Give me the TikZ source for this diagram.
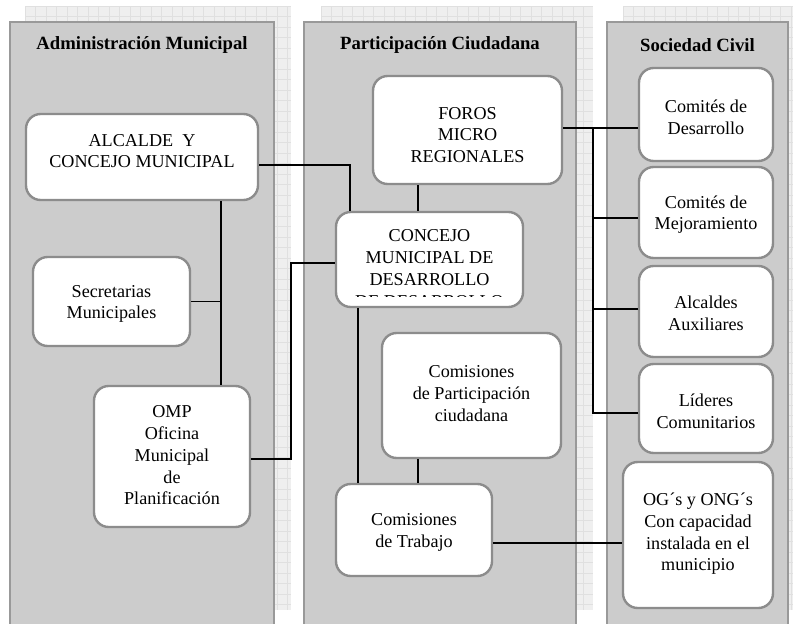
\documentclass[tikz,border=0pt]{standalone}
\usepackage{fontspec}
\setmainfont{Liberation Serif}
\usetikzlibrary{calc}
\definecolor{panelfill}{HTML}{CCCCCC}
\definecolor{panelline}{HTML}{999999}
\definecolor{boxline}{HTML}{8C8C8C}
\definecolor{gridfill}{HTML}{EFEFEF}
\definecolor{gridline}{HTML}{E0E0E0}
\tikzset{
  shadowgrid/.style={fill=gridfill},
  panel/.style={fill=panelfill, draw=panelline, line width=2.2pt},
  box/.style={draw=boxline, fill=white, line width=1.8pt, rounded corners=11pt, inner sep=0pt},
  txt/.style={align=center, inner sep=0pt, font=\fontsize{13.6}{16.3}\selectfont},
  head/.style={inner sep=0pt, font=\fontsize{14}{16.3}\selectfont\bfseries},
  conn/.style={draw=black, line width=1.4pt}
}
\begin{document}
\begin{tikzpicture}[x=0.75pt,y=-0.75pt]
\useasboundingbox (0,0) rectangle (793,624);
\clip (0,0) rectangle (793,624);
% grid shadows
\foreach \xa/\xb in {25/291,321/593,623/810}{
  \fill[shadowgrid] (\xa,6) rectangle (\xb,610);
  \begin{scope}
    \clip (\xa,6) rectangle (\xb,610);
    \foreach \gx in {0,...,27}{\draw[gridline, line width=0.6pt] ({\xa+\gx*10.5},6) -- ({\xa+\gx*10.5},610);}
    \foreach \gy in {0,...,58}{\draw[gridline, line width=0.6pt] (\xa,{6+\gy*10.5}) -- (\xb,{6+\gy*10.5});}
  \end{scope}
}
% panels
\draw[panel] (10,22) rectangle (274,640);
\draw[panel] (304,22) rectangle (576,640);
\draw[panel] (607,22) rectangle (788,640);
\node[head] (h1) at (142,45) {Administración Municipal};
\node[head] (h2) at (440,45) {Participación Ciudadana};
\node[head] (h3) at (697.5,45) {Sociedad Civil};

% boxes
\node[box, minimum width=174pt, minimum height=64.5pt] (alcalde) at (142,157) {};
\node[txt] (alcalde-t) at (142,151) {ALCALDE~ Y\\CONCEJO MUNICIPAL};
\node[box, minimum width=117.75pt, minimum height=66.75pt] (secret) at (111.5,301.5) {};
\node[txt] (secret-t) at (111.5,304) {Secretarias\\Municipales};
\node[box, minimum width=117pt, minimum height=105.75pt] (omp) at (172,456.5) {};
\node[txt] (omp-t) at (172,455.5) {OMP\\Oficina\\Municipal\\de\\Planificación};

\node[box, minimum width=141.75pt, minimum height=81pt] (foros) at (467.5,130) {};
\node[txt] (foros-t) at (467.5,135) {FOROS\\MICRO\\REGIONALES};
\node[box, minimum width=140.25pt, minimum height=71.25pt] (concejo) at (429.5,259.5) {};
\begin{scope}
  \clip (336,212) rectangle (523,296);
  \node[txt] (concejo-t) at (429.5,268.5) {CONCEJO\\MUNICIPAL DE\\DESARROLLO\\DE DESARROLLO};
\end{scope}
\node[box, minimum width=134.25pt, minimum height=93.75pt] (partic) at (471.5,395.5) {};
\node[txt] (partic-t) at (471.5,393.5) {Comisiones\\de Participación\\ciudadana};
\node[box, minimum width=117pt, minimum height=69pt] (trabajo) at (414,530) {};
\node[txt] (trabajo-t) at (414,532.5) {Comisiones\\de Trabajo};

\node[box, minimum width=100.5pt, minimum height=69.75pt] (desarr) at (706,114.5) {};
\node[txt] (desarr-t) at (706,117) {Comités de\\Desarrollo};
\node[box, minimum width=100.5pt, minimum height=68.25pt] (mejora) at (706,212.5) {};
\node[txt] (mejora-t) at (706,214.5) {Comités de\\Mejoramiento};
\node[box, minimum width=100.5pt, minimum height=68.25pt] (alcaux) at (706,311.5) {};
\node[txt] (alcaux-t) at (706,313) {Alcaldes\\Auxiliares};
\node[box, minimum width=100.5pt, minimum height=66.75pt] (lideres) at (706,408.5) {};
\node[txt] (lideres-t) at (706,411) {Líderes\\Comunitarios};
\node[box, minimum width=112.5pt, minimum height=109.5pt] (ogs) at (698,535) {};
\node[txt] (ogs-t) at (698,534) {OG´s y ONG´s\\Con capacidad\\instalada en el\\municipio};

% connectors
\coordinate (a0) at ($(alcalde.east)+(0,8)$);
\coordinate (c0) at ($(concejo.north)+(-79.5,0)$);
\draw[conn] (a0) -| (c0);
\coordinate (f1) at ($(foros.south)+(-49.5,0)$);
\draw[conn] (f1) -- (f1 |- concejo.north);
\coordinate (a1) at ($(alcalde.south)+(79,0)$);
\draw[conn] (a1) -- (a1 |- omp.north);
\draw[conn] (secret.east) -- (secret.east -| a1);
\coordinate (o1) at ($(omp.east)+(0,2.5)$);
\coordinate (o2) at ($(concejo.west)+(0,3.5)$);
\draw[conn] (o1) -- ++(40,0) |- (o2);
\coordinate (c1) at ($(concejo.south)+(-71.5,0)$);
\draw[conn] (c1) -- (c1 |- trabajo.north);
\coordinate (p1) at ($(partic.south)+(-53.5,0)$);
\draw[conn] (p1) -- (p1 |- trabajo.north);
\coordinate (t1) at ($(trabajo.east)+(0,13)$);
\draw[conn] (t1) -- (t1 -| ogs.west);
\coordinate (f2) at ($(foros.east)+(0,-2)$);
\draw[conn] (f2) -- (f2 -| desarr.west);
\coordinate (b0) at ($(f2)+(30,0)$);
\coordinate (m1) at ($(mejora.west)+(0,5.5)$);
\coordinate (m2) at ($(alcaux.west)+(0,-2.5)$);
\coordinate (m3) at ($(lideres.west)+(0,4.5)$);
\draw[conn] (b0) |- (m1);
\draw[conn] (b0) |- (m2);
\draw[conn] (b0) |- (m3);
\end{tikzpicture}
\end{document}
